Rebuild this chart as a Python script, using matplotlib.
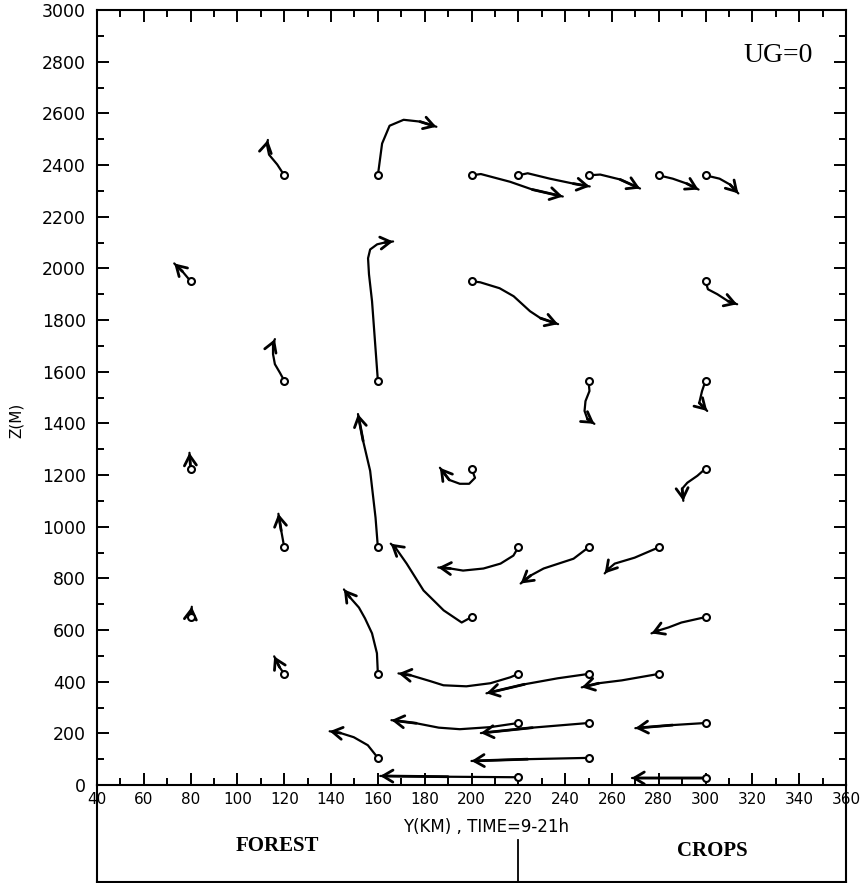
import numpy as np
import matplotlib
matplotlib.use("Agg")
import matplotlib.pyplot as plt
from matplotlib.ticker import MultipleLocator

# wind trajectories, each (y_km list, z_m list), first point = station circle
lvl_2360 = [
    ([120, 117, 113.5, 112.6, 113], [2360, 2402, 2440, 2479, 2497]),
    ([160, 161.8, 165, 171, 178, 185], [2360, 2483, 2552, 2575, 2568, 2548]),
    ([200, 204, 216.5, 226, 239], [2360, 2365, 2335, 2305, 2278]),
    ([220, 224, 233.5, 243.5, 250.5], [2360, 2368, 2347, 2328, 2317]),
    ([250, 255, 263.5, 272], [2360, 2363, 2344, 2309]),
    ([280, 286, 292, 297], [2360, 2347, 2328, 2305]),
    ([300, 306, 310.5, 314], [2360, 2347, 2324, 2290]),
]
lvl_1950 = [
    ([80, 76.5, 73], [1950, 1988, 2019]),
    ([200, 203.7, 212, 218, 225, 229.5, 237], [1950, 1946, 1923, 1892, 1834, 1807, 1784]),
    ([300, 301, 305, 309.6, 313.5], [1950, 1919, 1900, 1873, 1861]),
]
lvl_1565 = [
    ([120, 118.2, 116, 115.2, 115.2, 116], [1565, 1595, 1629, 1668, 1707, 1726]),
    ([160, 157.5, 156.2, 155.8, 156.7, 159.7, 163, 166.5], [1565, 1873, 1977, 2039, 2073, 2093, 2100, 2104]),
    ([250, 250.4, 248.7, 248.3, 249.5, 252.5], [1565, 1525, 1486, 1448, 1417, 1398]),
    ([300, 298.5, 297.3, 300.7], [1565, 1525, 1479, 1448]),
]
lvl_1225 = [
    ([80, 79.5], [1225, 1286]),
    ([200, 201.5, 199, 195, 190.5, 186.5], [1225, 1189, 1166, 1166, 1181, 1228]),
    ([300, 296.5, 292.2, 290, 290.5], [1225, 1197, 1170, 1147, 1100]),
]
lvl_920 = [
    ([120, 118.7, 117.5], [920, 985, 1050]),
    ([160, 159, 156.7, 153.7, 151.5], [920, 1035, 1216, 1332, 1436]),
    ([220, 217.9, 212.4, 205.1, 196.4, 191, 185.8], [920, 888, 857, 838, 830, 838, 842]),
    ([250, 243.6, 230.8, 225.3, 221], [920, 876, 838, 811, 780]),
    ([280, 269.7, 261.2, 258.7, 256.9], [920, 880, 857, 838, 819]),
]
lvl_650 = [
    ([80, 80.5], [650, 690]),
    ([200, 195.8, 188.1, 185.1, 179.5, 172.3, 167.5, 165.5], [650, 629, 676, 703, 753, 857, 919, 934]),
    ([300, 289.7, 284.2, 279.9, 276.9], [650, 629, 610, 598, 587]),
]
lvl_430 = [
    ([120, 118, 115.7], [430, 456, 498]),
    ([160, 159.6, 157.5, 154.5, 151.9, 148.1, 145.5], [430, 510, 587, 645, 687, 726, 757]),
    ([220, 216.6, 208.1, 197.8, 188, 182.4, 173.9, 168.8], [430, 417, 394, 382, 386, 402, 425, 432]),
    ([250, 236.8, 222.7, 206.4], [430, 413, 390, 355]),
    ([280, 264.2, 254.4, 247.1], [430, 405, 394, 378]),
]
lvl_240 = [
    ([220, 208, 195, 186, 176.4, 165.8], [240, 224, 216, 222, 239, 251]),
    ([250, 226, 204], [240, 222, 201]),
    ([300, 285.9, 270], [240, 232, 220]),
]
lvl_105 = [
    ([160, 155.7, 149.7, 144.1, 139.4], [105, 154, 185, 201, 208]),
    ([250, 224, 200], [105, 100, 93]),
]
lvl_30 = [
    ([220, 190, 161], [30, 32, 35]),
    ([300, 268.4], [27, 27]),
]

x_ticks = np.arange(40, 361, 20)
z_ticks = np.arange(0, 3001, 200)

fig = plt.figure(figsize=(8.6, 8.83), dpi=100)
ax = fig.add_axes([97 / 860, 98 / 883, 749 / 860, 775 / 883])

for lvl in [lvl_2360, lvl_1950, lvl_1565, lvl_1225, lvl_920, lvl_650,
            lvl_430, lvl_240, lvl_105, lvl_30]:
    for xs, zs in lvl:
        ax.plot(xs, zs, color='black', lw=1.6,
                solid_capstyle='round', solid_joinstyle='round')
        ax.annotate('', xy=(xs[-1], zs[-1]), xytext=(xs[-2], zs[-2]),
                    arrowprops=dict(arrowstyle='->,head_length=0.45,head_width=0.27',
                                    lw=2.0, color='black', shrinkA=0, shrinkB=0,
                                    mutation_scale=16))
        ax.plot(xs[0], zs[0], 'o', ms=5, mfc='white', mec='black', mew=1.5, zorder=5)

ax.set_xlim(40, 360)
ax.set_ylim(0, 3000)
ax.set_xticks(x_ticks)
ax.set_yticks(z_ticks)
ax.xaxis.set_minor_locator(MultipleLocator(10))
ax.yaxis.set_minor_locator(MultipleLocator(100))
ax.tick_params(which='both', direction='in', top=True, right=True, width=1.4, color='black')
ax.tick_params(which='major', length=8.5)
ax.tick_params(which='minor', length=5)
ax.tick_params(axis='x', labelsize=11, pad=5)
ax.tick_params(axis='y', labelsize=12.5, pad=8)
for s in ax.spines.values():
    s.set_linewidth(1.5)

ax.text(331, 2822, 'UG=0', fontsize=20, family='Liberation Serif',
        ha='center', va='center')
fig.text(16 / 860, 1 - 420 / 883, 'Z(M)', rotation=90, fontsize=11,
         ha='center', va='center')

# box underneath with the surface types
ax2 = fig.add_axes([97 / 860, 1.5 / 883, 749 / 860, 96.5 / 883])
ax2.patch.set_visible(False)
ax2.set_xlim(40, 360)
ax2.set_ylim(0, 1)
ax2.set_xticks([])
ax2.set_yticks([])
ax2.spines['top'].set_visible(False)
for s in ['left', 'right', 'bottom']:
    ax2.spines[s].set_linewidth(1.5)
ax2.axvline(220, ymin=0, ymax=0.43, color='black', lw=1.3)
ax2.text(206, 0.56, 'Y(KM) , TIME=9-21h', fontsize=12, ha='center', va='center')
ax2.text(117, 0.37, 'FOREST', fontsize=15, family='Liberation Serif',
         weight='bold', ha='center', va='center')
ax2.text(303, 0.32, 'CROPS', fontsize=15, family='Liberation Serif',
         weight='bold', ha='center', va='center')

fig.savefig('out.png', dpi=100)
